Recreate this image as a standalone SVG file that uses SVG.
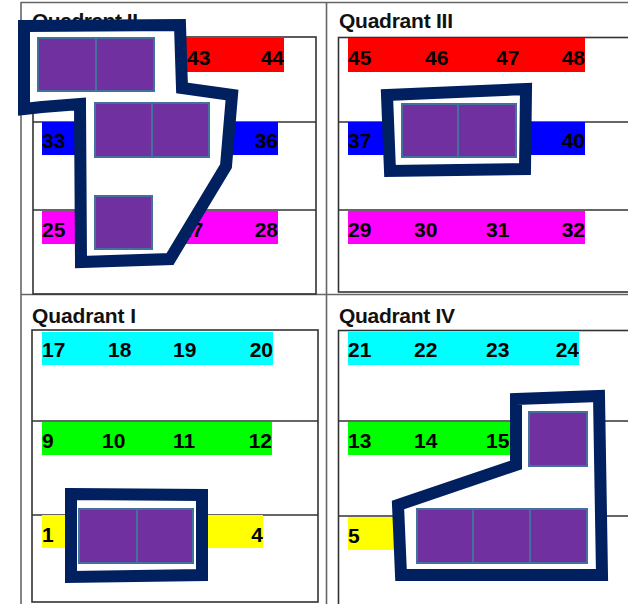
<svg xmlns="http://www.w3.org/2000/svg" width="628" height="604" viewBox="0 0 628 604">
<style>
.frame{stroke:#666;stroke-width:1.6;fill:none}
.box{stroke:#333;stroke-width:1.6;fill:none}
.title{font-family:"Liberation Sans",Arial,sans-serif;font-weight:bold;font-size:21px;fill:#111}
.num{font-family:"Liberation Sans",Arial,sans-serif;font-weight:bold;font-size:21px;fill:#000}
.e{text-anchor:end}
.sq{fill:#7030A0;stroke:#41719C;stroke-width:2}
.outline{fill:#fff;stroke:#002060;stroke-width:12;stroke-linejoin:miter}
</style>
<rect width="628" height="604" fill="#fff"/>
<g id="frame">
<line class="frame" x1="21" y1="2.5" x2="628" y2="2.5"/>
<line class="frame" x1="21" y1="2" x2="21" y2="604"/>
<line class="frame" x1="326.5" y1="2" x2="326.5" y2="604"/>
<line class="frame" x1="21" y1="294.5" x2="628" y2="294.5"/>
</g>
<g id="quadrant-ii">
<rect class="box" x="33" y="37" width="283" height="257"/>
<line class="box" x1="33" y1="122" x2="316" y2="122"/>
<line class="box" x1="33" y1="210" x2="316" y2="210"/>
<text class="title" x="32" y="28" textLength="106">Quadrant II</text>
<rect x="42" y="38" width="242" height="34" fill="#f00"/>
<rect x="42" y="122" width="236" height="33" fill="#00f"/>
<rect x="42" y="211" width="236" height="33" fill="#f0f"/>
<text class="num" x="187" y="65">43</text>
<text class="num e" x="284" y="65">44</text>
<text class="num" x="42" y="148">33</text>
<text class="num e" x="278" y="148">36</text>
<text class="num" x="42" y="237">25</text>
<text class="num" x="180" y="237">27</text>
<text class="num e" x="278" y="237">28</text>
</g>
<g id="quadrant-iii">
<rect class="box" x="338.5" y="37.5" width="300" height="254.5"/>
<line class="box" x1="338.5" y1="122" x2="628" y2="122"/>
<line class="box" x1="338.5" y1="210" x2="628" y2="210"/>
<text class="title" x="339" y="28" textLength="114">Quadrant III</text>
<rect x="348" y="38" width="237" height="34" fill="#f00"/>
<rect x="348" y="122" width="237" height="33" fill="#00f"/>
<rect x="348" y="211" width="237" height="33" fill="#f0f"/>
<text class="num" x="348" y="65">45</text>
<text class="num" x="425" y="65">46</text>
<text class="num" x="496" y="65">47</text>
<text class="num e" x="585" y="65">48</text>
<text class="num" x="348" y="148">37</text>
<text class="num e" x="585" y="148">40</text>
<text class="num" x="348" y="237">29</text>
<text class="num" x="414" y="237">30</text>
<text class="num" x="486" y="237">31</text>
<text class="num e" x="585" y="237">32</text>
</g>
<g id="quadrant-i">
<rect class="box" x="32" y="330" width="286" height="272"/>
<line class="box" x1="32" y1="421" x2="318" y2="421"/>
<line class="box" x1="32" y1="515" x2="318" y2="515"/>
<text class="title" x="32" y="323" textLength="104">Quadrant I</text>
<rect x="42" y="332" width="231" height="33" fill="#0ff"/>
<rect x="42" y="422" width="230" height="33" fill="#0f0"/>
<rect x="42" y="515" width="221" height="33" fill="#ff0"/>
<text class="num" x="42" y="357">17</text>
<text class="num" x="108" y="357">18</text>
<text class="num" x="173" y="357">19</text>
<text class="num e" x="273" y="357">20</text>
<text class="num" x="42" y="448">9</text>
<text class="num" x="102" y="448">10</text>
<text class="num" x="173" y="448">11</text>
<text class="num e" x="272" y="448">12</text>
<text class="num" x="42" y="542">1</text>
<text class="num e" x="263" y="542">4</text>
</g>
<g id="quadrant-iv">
<rect class="box" x="338.5" y="330.5" width="300" height="300"/>
<line class="box" x1="338.5" y1="421" x2="628" y2="421"/>
<line class="box" x1="338.5" y1="516" x2="628" y2="516"/>
<text class="title" x="339" y="323" textLength="116">Quadrant IV</text>
<rect x="348" y="332" width="231" height="33" fill="#0ff"/>
<rect x="348" y="422" width="231" height="33" fill="#0f0"/>
<rect x="348" y="517" width="231" height="33" fill="#ff0"/>
<text class="num" x="348" y="357">21</text>
<text class="num" x="414" y="357">22</text>
<text class="num" x="486" y="357">23</text>
<text class="num e" x="579" y="357">24</text>
<text class="num" x="348" y="448">13</text>
<text class="num" x="414" y="448">14</text>
<text class="num" x="486" y="448">15</text>
<text class="num" x="348" y="543">5</text>
</g>
<g id="connectors">
<path id="outline-ii" class="outline" d="M24,26 L180,25 L182,88 L232,95 L226,166 L170,259 L81,262 L80,104 L42,107 L24,109 Z"/>
<path id="outline-iii" class="outline" d="M387,95 L526,89 L525,169 L390,171 Z"/>
<path id="outline-i" class="outline" d="M71,494 L202,495 L202,575 L71,577 Z"/>
<path id="outline-iv" class="outline" d="M516,399 L599,396 L602,575 L401,575 L398,505 L516,465 Z"/>
</g>
<g id="squares-ii">
<rect class="sq" x="38" y="38" width="58" height="53"/>
<rect class="sq" x="96" y="38" width="58" height="53"/>
<rect class="sq" x="95" y="103" width="57" height="54"/>
<rect class="sq" x="152" y="103" width="57" height="54"/>
<rect class="sq" x="95" y="196" width="57" height="53"/>
</g>
<g id="squares-iii">
<rect class="sq" x="402" y="104" width="56" height="53"/>
<rect class="sq" x="458" y="104" width="58" height="53"/>
</g>
<g id="squares-i">
<rect class="sq" x="79" y="509" width="58" height="54"/>
<rect class="sq" x="137" y="509" width="56" height="54"/>
</g>
<g id="squares-iv">
<rect class="sq" x="529" y="412" width="58" height="54"/>
<rect class="sq" x="417" y="509" width="56" height="54"/>
<rect class="sq" x="473" y="509" width="57" height="54"/>
<rect class="sq" x="530" y="509" width="57" height="54"/>
</g>
</svg>
